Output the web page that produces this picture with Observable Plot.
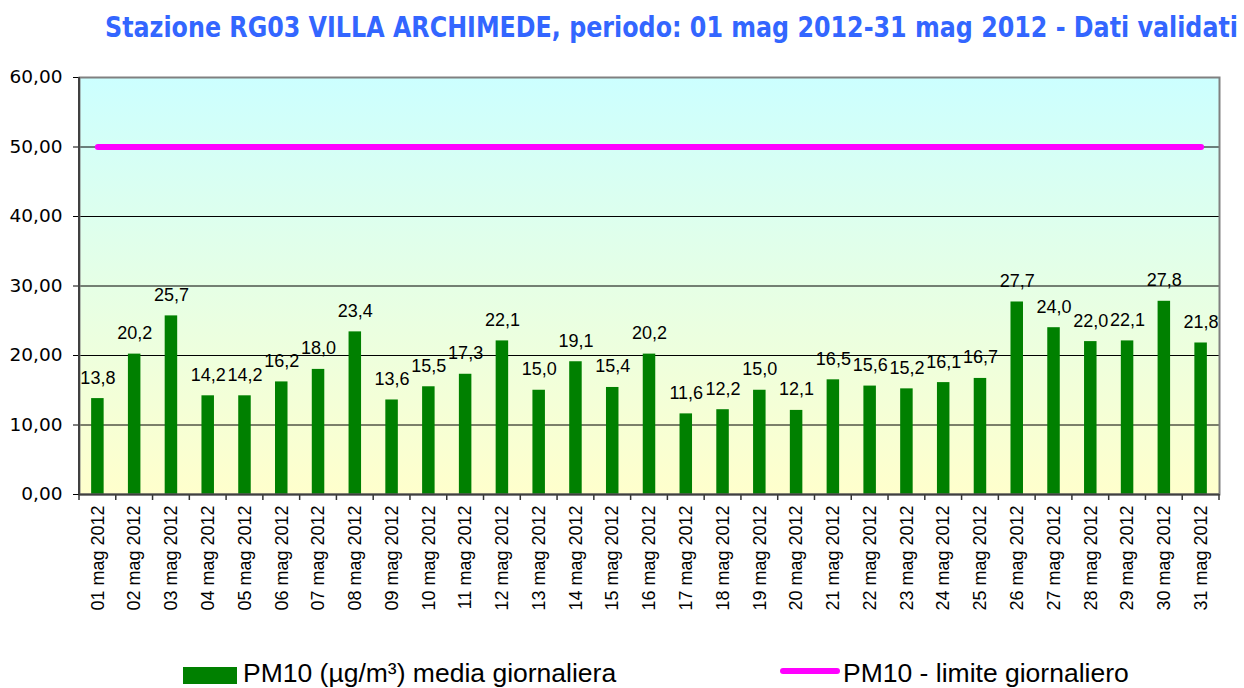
<!DOCTYPE html>
<html>
<head>
<meta charset="utf-8">
<script src="https://cdn.jsdelivr.net/npm/d3@7"></script>
<script src="https://cdn.jsdelivr.net/npm/@observablehq/plot@0.6"></script>
<style>
  html, body { margin: 0; padding: 0; background: #fff; }
  body { position: relative; width: 1244px; height: 688px; overflow: hidden; }
  #title { position: absolute; left: 105px; top: 14px; font-family: "DejaVu Sans"; font-weight: bold; font-size: 28px; line-height: 28px; color: #3366ff; white-space: nowrap; transform-origin: 0 0; }
  #chart { position: absolute; left: 0; top: 50px; }
  .leg { position: absolute; font-family: "Liberation Sans", Arial, sans-serif; font-size: 26.5px; line-height: 26px; color: #000; white-space: nowrap; }
</style>
</head>
<body>
<div id="title">Stazione RG03 VILLA ARCHIMEDE, periodo: 01 mag 2012-31 mag 2012 - Dati validati</div>
<div id="chart"></div>
<div style="position:absolute;left:183px;top:667px;width:54px;height:17px;background:#008000"></div>
<div class="leg" style="left:243px;top:660px">PM10 (µg/m³) media giornaliera</div>
<div style="position:absolute;left:780px;top:668px;width:60px;height:6px;border-radius:3px;background:#ff00ff"></div>
<div class="leg" style="left:843px;top:660px">PM10 - limite giornaliero</div>
<script>
const days = ["01 mag 2012","02 mag 2012","03 mag 2012","04 mag 2012","05 mag 2012","06 mag 2012","07 mag 2012","08 mag 2012","09 mag 2012","10 mag 2012","11 mag 2012","12 mag 2012","13 mag 2012","14 mag 2012","15 mag 2012","16 mag 2012","17 mag 2012","18 mag 2012","19 mag 2012","20 mag 2012","21 mag 2012","22 mag 2012","23 mag 2012","24 mag 2012","25 mag 2012","26 mag 2012","27 mag 2012","28 mag 2012","29 mag 2012","30 mag 2012","31 mag 2012"];
const pm10 = [13.8,20.2,25.7,14.2,14.2,16.2,18.0,23.4,13.6,15.5,17.3,22.1,15.0,19.1,15.4,20.2,11.6,12.2,15.0,12.1,16.5,15.6,15.2,16.1,16.7,27.7,24.0,22.0,22.1,27.8,21.8];
const limit = 50;
const yTicks = [0,10,20,30,40,50,60];

const rows = days.map((d, i) => ({day: d, value: pm10[i], limit}));
const fmt1 = v => d3.format(".1f")(v).replace(".", ",");
const fmt2 = v => d3.format(".2f")(v).replace(".", ",");
const NS = "http://www.w3.org/2000/svg";

const background = (index, scales, values, dim) => {
  const g = document.createElementNS(NS, "g");
  const defs = document.createElementNS(NS, "defs");
  const lg = document.createElementNS(NS, "linearGradient");
  lg.setAttribute("id", "bgGrad");
  lg.setAttribute("x1", "0"); lg.setAttribute("y1", "0");
  lg.setAttribute("x2", "0"); lg.setAttribute("y2", "1");
  [["0%", "#ccffff"], ["100%", "#ffffcc"]].forEach(([o, c]) => {
    const s = document.createElementNS(NS, "stop");
    s.setAttribute("offset", o); s.setAttribute("stop-color", c);
    lg.appendChild(s);
  });
  defs.appendChild(lg);
  g.appendChild(defs);
  const r = document.createElementNS(NS, "rect");
  r.setAttribute("x", dim.marginLeft);
  r.setAttribute("y", dim.marginTop);
  r.setAttribute("width", dim.width - dim.marginLeft - dim.marginRight);
  r.setAttribute("height", dim.height - dim.marginTop - dim.marginBottom);
  r.setAttribute("fill", "url(#bgGrad)");
  g.appendChild(r);
  return g;
};

const xTicksBetween = (index, scales, values, dim) => {
  const g = document.createElementNS(NS, "g");
  const x = scales.x;
  const bw = x.bandwidth ? x.bandwidth() : 0;
  const step = x(days[1]) - x(days[0]);
  const y0 = scales.y(0);
  const bounds = days.map(d => x(d) + bw / 2 - step / 2);
  bounds.push(x(days[days.length - 1]) + bw / 2 + step / 2);
  bounds.forEach(b => {
    const l = document.createElementNS(NS, "line");
    l.setAttribute("x1", b); l.setAttribute("x2", b);
    l.setAttribute("y1", y0); l.setAttribute("y2", y0 + 6);
    l.setAttribute("stroke", "#333"); l.setAttribute("stroke-width", "1.5");
    g.appendChild(l);
  });
  return g;
};

const leftAxisLine = (index, scales, values, dim) => {
  const l = document.createElementNS(NS, "line");
  l.setAttribute("x1", dim.marginLeft); l.setAttribute("x2", dim.marginLeft);
  l.setAttribute("y1", dim.marginTop); l.setAttribute("y2", dim.height - dim.marginBottom);
  l.setAttribute("stroke", "#404040"); l.setAttribute("stroke-width", "2");
  return l;
};

const chart = Plot.plot({
  width: 1244,
  height: 600,
  marginLeft: 79,
  marginRight: 25,
  marginTop: 27,
  marginBottom: 156,
  style: {background: "transparent", color: "#000"},
  x: {domain: days, paddingInner: 0.66, paddingOuter: 0.33, round: false, label: null},
  y: {domain: [0, 60], label: null},
  marks: [
    background,
    Plot.ruleY([10, 20, 30, 40, 50], {stroke: "#000", strokeWidth: 1}),
    Plot.barY(rows, {x: "day", y: "value", fill: "#008000"}),
    Plot.line(rows, {x: "day", y: "limit", stroke: "#ff00ff", strokeWidth: 6, strokeLinecap: "round"}),
    Plot.text(rows, {x: "day", y: "value", text: d => fmt1(d.value), dy: -15, lineAnchor: "bottom", fontSize: 18, fontFamily: "Liberation Sans, Arial, sans-serif", fill: "#000"}),
    Plot.frame({stroke: "#808080", strokeWidth: 2}),
    Plot.axisY({ticks: yTicks, tickSize: 6, tickPadding: 11, tickFormat: fmt2, fontSize: 18.5, label: null}),
    Plot.axisX({tickSize: 0, tickRotate: -90, tickPadding: 11, fontSize: 18, fontFamily: "Liberation Sans, Arial, sans-serif", label: null}),
    xTicksBetween,
    Plot.ruleY([0], {stroke: "#404040", strokeWidth: 2}),
    leftAxisLine
  ]
});
document.getElementById("chart").appendChild(chart);

d3.select(chart).selectAll('g[aria-label="y-axis tick label"]')
  .style("font-family", "'DejaVu Sans'")
  .style("font-size", "18.5px");

const t = document.getElementById("title");
const w = t.getBoundingClientRect().width;
t.style.transform = `scaleX(${1133 / w})`;
</script>
</body>
</html>
